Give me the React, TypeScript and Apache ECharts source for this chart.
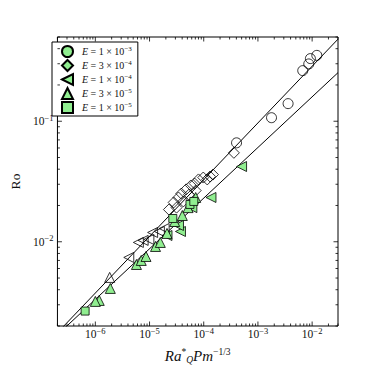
import React, { useEffect, useRef } from 'react';
import * as echarts from 'echarts';

const X_MIN = 2e-7;
const X_MAX = 3e-2;
const Y_MIN = 2e-3;
const Y_MAX = 0.5;

const xDecades = [1e-6, 1e-5, 1e-4, 1e-3, 1e-2];
const xDecadeExp = ['−6', '−5', '−4', '−3', '−2'];
const yDecades = [1e-2, 1e-1];
const yDecadeExp = ['−2', '−1'];

const seriesNames = ['E1', 'E2', 'E3', 'E4', 'E5'];
const eMantissa = ['1', '3', '1', '3', '1'];
const eExponent = ['−3', '−4', '−4', '−5', '−5'];

// E = 1e-3 (circles)
const circOpen: number[][] = [
  [0.0122, 0.352], [0.00929, 0.331], [0.00867, 0.299], [0.00671, 0.263],
  [0.0036, 0.14], [0.00178, 0.107], [4.03e-4, 0.0662],
];
const circFilled: number[][] = [];
// E = 3e-4 (diamonds)
const diaOpen: number[][] = [
  [3.6e-4, 0.0547], [1.48e-4, 0.0361], [1.31e-4, 0.0348], [1.16e-4, 0.0329],
  [9.8e-5, 0.0341], [8.0e-5, 0.0329], [7.1e-5, 0.0266], [6.8e-5, 0.0304],
  [5.8e-5, 0.0293], [5.35e-5, 0.0246], [4.73e-5, 0.0272], [4.2e-5, 0.0216],
  [3.86e-5, 0.0251], [3.42e-5, 0.0233], [3.15e-5, 0.0192], [2.79e-5, 0.0212],
  [2.28e-5, 0.0185],
];
const diaFilled: number[][] = [];
// E = 1e-4 (left triangles)
const ltriOpen: number[][] = [
  [4.14e-6, 0.00741], [6.22e-6, 0.00987], [7.62e-6, 0.01026], [9.72e-6, 0.01045],
  [1.14e-5, 0.01194], [1.52e-5, 0.01217], [1.86e-5, 0.01288],
];
const ltriFilled: number[][] = [
  [4.99e-4, 0.0421], [1.36e-4, 0.0233], [6.04e-5, 0.0192], [3.72e-5, 0.01217],
  [3.42e-5, 0.01365], [2.1e-5, 0.01127],
];
// E = 3e-5 (up triangles)
const utriOpen: number[][] = [[1.84e-6, 0.00506]];
const utriFilled: number[][] = [
  [1.89e-6, 0.0041], [1.18e-6, 0.00326], [1.0e-6, 0.0032], [5.73e-6, 0.00648],
  [7.03e-6, 0.007], [8.61e-6, 0.00755], [1.29e-5, 0.00914], [1.58e-5, 0.00987],
  [2.1e-5, 0.01172], [2.91e-5, 0.01473], [4.03e-5, 0.01652], [5.14e-5, 0.0192],
  [7.1e-5, 0.0233],
];
// E = 1e-5 (squares)
const sqOpen: number[][] = [];
const sqFilled: number[][] = [
  [6.48e-7, 0.00266], [2.69e-5, 0.0156], [5.57e-5, 0.0204], [6.56e-5, 0.0216],
];

// fit lines (end points)
const fitUpper: number[][] = [[2e-7, 0.00176], [3e-2, 0.48]];
const fitLower: number[][] = [[2e-7, 0.00169], [3e-2, 0.253]];

const GREEN = '#90EE90';
const FONT = 'Liberation Serif';
const TXT = '#111';

function isDecade(v: number) {
  const l = Math.log10(v);
  return Math.abs(l - Math.round(l)) < 1e-6;
}

function buildTicks() {
  const out: number[][] = [];
  for (let d = -7; d <= -1; d++) {
    for (let m = 1; m <= 9; m++) {
      const v = m * Math.pow(10, d);
      if (v >= X_MIN * 0.999 && v <= X_MAX * 1.001) out.push([v, Y_MIN, 0, m === 1 ? 1 : 0]);
      if (v >= Y_MIN * 0.999 && v <= Y_MAX * 1.001) out.push([X_MIN, v, 1, m === 1 ? 1 : 0]);
    }
  }
  return out;
}

export default function App() {
  const ref = useRef<HTMLDivElement>(null);
  useEffect(() => {
    if (!ref.current) return;
    const chart = echarts.init(ref.current, null, { renderer: 'svg' });
    const markers = [
      { sym: 'circle', size: 10, open: circOpen, filled: circFilled },
      { sym: 'diamond', size: 11, open: diaOpen, filled: diaFilled },
      { sym: 'path://M0,5L10,0L10,10Z', size: 10, open: ltriOpen, filled: ltriFilled },
      { sym: 'triangle', size: 10, open: utriOpen, filled: utriFilled },
      { sym: 'rect', size: 8, open: sqOpen, filled: sqFilled },
    ];
    const scatter = markers.map((m, i) => ({
      type: 'scatter',
      name: seriesNames[i],
      symbol: m.sym,
      symbolSize: m.size,
      z: 3,
      itemStyle: { color: GREEN, borderColor: '#000', borderWidth: 0.8, opacity: 1 },
      data: [
        ...m.filled.map((p) => ({ value: p })),
        ...m.open.map((p) => ({ value: p, itemStyle: { color: 'rgba(0,0,0,0)' } })),
      ],
    }));
    const supRich = {
      b: { fontSize: 11.5, fontFamily: FONT, color: TXT, lineHeight: 14 },
      s: { fontSize: 8.5, fontFamily: FONT, color: TXT, padding: [0, 0, 7, 0], lineHeight: 9 },
    };
    chart.setOption({
      animation: false,
      grid: { left: 47, right: 38, top: 37, bottom: 50, show: true, borderColor: '#000', borderWidth: 1 },
      legend: {
        data: seriesNames,
        orient: 'vertical',
        left: 52,
        top: 42,
        padding: [3, 6, 2, 9],
        itemGap: 1,
        itemWidth: 11,
        itemHeight: 11,
        borderColor: '#000',
        borderWidth: 1,
        backgroundColor: '#fff',
        borderRadius: 0,
        formatter: (name: string) => {
          const i = seriesNames.indexOf(name);
          return `{i|E}{t| = ${eMantissa[i]} × 10}{s|${eExponent[i]}}`;
        },
        textStyle: {
          rich: {
            i: { fontSize: 10, fontStyle: 'italic', fontFamily: FONT, color: TXT, padding: [0, 0, 0, 4], lineHeight: 14 },
            t: { fontSize: 10, fontFamily: FONT, color: TXT, lineHeight: 14 },
            s: { fontSize: 7, fontFamily: FONT, color: TXT, padding: [0, 0, 6, 0], lineHeight: 8 },
          },
        },
      },
      xAxis: {
        type: 'log',
        logBase: 10,
        min: X_MIN,
        max: X_MAX,
        axisLine: { show: false },
        axisTick: { show: false },
        splitLine: { show: false },
        axisLabel: {
          margin: 1,
          showMinLabel: false,
          showMaxLabel: false,
          formatter: (v: number) => {
            if (!isDecade(v)) return '';
            const k = xDecades.findIndex((d) => Math.abs(Math.log10(d) - Math.log10(v)) < 1e-6);
            return k < 0 ? '' : `{b|10}{s|${xDecadeExp[k]}}`;
          },
          rich: supRich,
        },
        name: '{i|Ra}{s|*}{q|Q}{i|Pm}{s|−1/3}',
        nameLocation: 'middle',
        nameGap: 13,
        nameTextStyle: {
          rich: {
            i: { fontSize: 15, fontStyle: 'italic', fontFamily: FONT, color: TXT },
            s: { fontSize: 9.5, fontFamily: FONT, color: TXT, padding: [0, 0, 9, 0] },
            q: { fontSize: 9.5, fontStyle: 'italic', fontFamily: FONT, color: TXT, padding: [7, 0, 0, 0] },
          },
        },
      },
      yAxis: {
        type: 'log',
        logBase: 10,
        min: Y_MIN,
        max: Y_MAX,
        axisLine: { show: false },
        axisTick: { show: false },
        splitLine: { show: false },
        axisLabel: {
          margin: 4,
          showMinLabel: false,
          showMaxLabel: false,
          formatter: (v: number) => {
            if (!isDecade(v)) return '';
            const k = yDecades.findIndex((d) => Math.abs(Math.log10(d) - Math.log10(v)) < 1e-6);
            return k < 0 ? '' : `{b|10}{s|${yDecadeExp[k]}}`;
          },
          rich: supRich,
        },
        name: 'Ro',
        nameLocation: 'middle',
        nameGap: 25,
        nameRotate: 90,
        nameTextStyle: { fontSize: 13.5, fontFamily: FONT, color: TXT },
      },
      series: [
        {
          type: 'line', data: fitUpper, showSymbol: false, symbol: 'none', z: 2, silent: true,
          lineStyle: { color: '#000', width: 1 },
        },
        {
          type: 'line', data: fitLower, showSymbol: false, symbol: 'none', z: 2, silent: true,
          lineStyle: { color: '#000', width: 1 },
        },
        ...scatter,
        {
          type: 'custom',
          silent: true,
          z: 5,
          encode: { x: 0, y: 1 },
          data: buildTicks(),
          renderItem: (params: any, api: any) => {
            const cs = params.coordSys;
            const axis = api.value(2);
            const len = api.value(3) ? 4.5 : 2.5;
            const style = { stroke: '#000', lineWidth: 0.8 };
            if (axis === 0) {
              const px = api.coord([api.value(0), Y_MIN])[0];
              const yb = cs.y + cs.height;
              return {
                type: 'group',
                children: [
                  { type: 'line', shape: { x1: px, y1: yb, x2: px, y2: yb - len }, style },
                  { type: 'line', shape: { x1: px, y1: cs.y, x2: px, y2: cs.y + len }, style },
                ],
              };
            }
            const py = api.coord([X_MIN, api.value(1)])[1];
            const xr = cs.x + cs.width;
            return {
              type: 'group',
              children: [
                { type: 'line', shape: { x1: cs.x, y1: py, x2: cs.x + len, y2: py }, style },
                { type: 'line', shape: { x1: xr, y1: py, x2: xr - len, y2: py }, style },
              ],
            };
          },
        },
      ],
    });
    return () => chart.dispose();
  }, []);
  return (
    <div
      ref={ref}
      style={{ position: 'absolute', left: 0, top: 0, width: 376, height: 376, background: '#fff' }}
    />
  );
}
